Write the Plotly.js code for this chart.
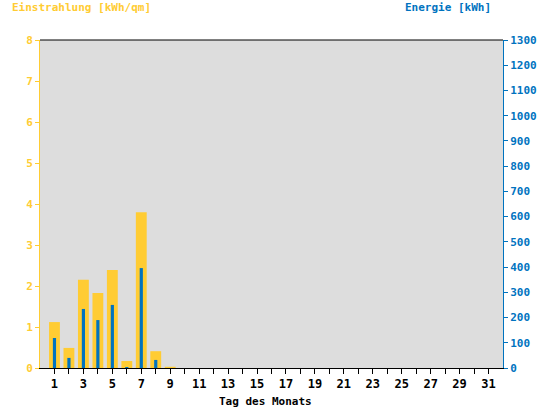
<!DOCTYPE html>
<html><head><meta charset="utf-8">
<script src="https://cdn.plot.ly/plotly-3.0.1.min.js"></script>
<style>html,body{margin:0;padding:0;background:#fff}</style>
</head><body>
<div id="chart" style="width:544px;height:408px"></div>
<script>
var days = [];
for (var d = 1; d <= 31; d++) days.push(d);
var einstrahlung = [1.12, 0.49, 2.15, 1.83, 2.39, 0.17, 3.80, 0.41, 0.03,
  0,0,0,0,0,0,0,0,0,0,0,0,0,0,0,0,0,0,0,0,0,0];
var energie = [119, 40, 234, 190, 250, 4, 396, 32, 0,
  0,0,0,0,0,0,0,0,0,0,0,0,0,0,0,0,0,0,0,0,0,0];
var dayLabels = days.map(function(d){ return d % 2 === 1 ? String(d) : ''; });
var leftTicks = [0,1,2,3,4,5,6,7,8];
var rightTicks = [0,100,200,300,400,500,600,700,800,900,1000,1100,1200,1300];

var YEL = '#FFCC33', BLU = '#0073BF';
var F = 'DejaVu Sans Mono, monospace';

var traces = [
  {type:'bar', x:days, y:einstrahlung, yaxis:'y', width:0.75,
   marker:{color:YEL, line:{width:0}}, hoverinfo:'none'},
  {type:'bar', x:days, y:energie, yaxis:'y2', width:0.22,
   marker:{color:BLU, line:{width:0}}, hoverinfo:'none'}
];

var layout = {
  width:544, height:408,
  margin:{l:40, r:41, t:40, b:40},
  paper_bgcolor:'#ffffff', plot_bgcolor:'#DDDDDD',
  showlegend:false, barmode:'overlay',
  font:{family:F, size:11, weight:'bold'},
  xaxis:{range:[0,32], tickmode:'array', tickvals:days, ticktext:dayLabels,
    ticks:'outside', ticklen:5, tickcolor:'#000', showline:true, linecolor:'#000',
    linewidth:1, showgrid:false, zeroline:false,
    tickfont:{family:F, size:12, color:'#000', weight:'bold'}},
  yaxis:{range:[0,8], tickmode:'array', tickvals:leftTicks, ticks:'outside', ticklen:4,
    tickcolor:YEL, showline:true, linecolor:YEL, linewidth:1, showgrid:false, zeroline:false,
    tickfont:{family:F, size:11, color:YEL, weight:'bold'}},
  yaxis2:{range:[0,1300], overlaying:'y', side:'right', tickmode:'array', tickvals:rightTicks,
    ticks:'outside', ticklen:4, tickcolor:BLU, showline:true, linecolor:BLU, linewidth:1,
    showgrid:false, zeroline:false,
    tickfont:{family:F, size:11, color:BLU, weight:'bold'}},
  shapes:[{type:'line', xref:'paper', yref:'paper', x0:0, x1:1, y0:1, y1:1,
    line:{color:'#000', width:1}}],
  annotations:[
    {text:'Einstrahlung [kWh/qm]', xref:'paper', yref:'paper', x:-30/463, y:1+33/328,
     xanchor:'left', yanchor:'middle', showarrow:false,
     font:{family:F, size:11, color:YEL, weight:'bold'}},
    {text:'Energie [kWh]', xref:'paper', yref:'paper', x:(493-40)/463, y:1+33/328,
     xanchor:'right', yanchor:'middle', showarrow:false,
     font:{family:F, size:11, color:BLU, weight:'bold'}},
    {text:'Tag des Monats', xref:'paper', yref:'paper', x:(265-40)/463, y:-33/328,
     xanchor:'center', yanchor:'middle', showarrow:false,
     font:{family:F, size:11, color:'#000', weight:'bold'}}
  ]
};
Plotly.newPlot('chart', traces, layout, {staticPlot:true, displayModeBar:false});
</script>
</body></html>
